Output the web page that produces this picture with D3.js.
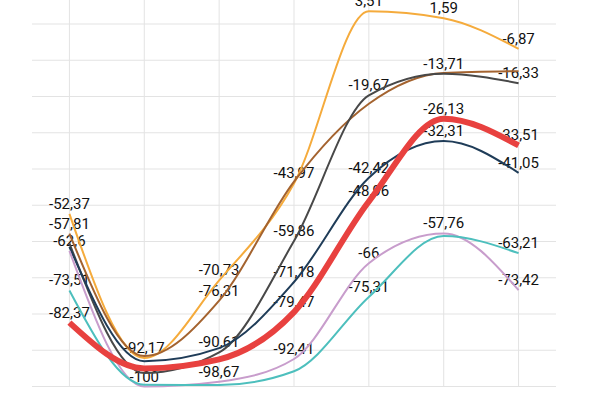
<!DOCTYPE html>
<html>
<head>
<meta charset="utf-8">
<script src="https://cdn.jsdelivr.net/npm/d3@7"></script>
<style>
  body { margin: 0; background: #fff; }
  svg { display: block; font-family: Roboto, "Noto Sans", sans-serif; }
</style>
</head>
<body>
<div id="chart"></div>
<script>
var months = ["Marzo", "Aprile", "Maggio", "Giugno", "Luglio", "Agosto", "Settembre"];

var arancio = [-52.37, -92.17, -70.73, -43.97, 3.51, 1.59, -6.87];
var marrone = [-57.81, -91.6, -76.31, -43.5, -22, -13.5, -13];
var grigio  = [-60.5, -96.3, -90.61, -59.86, -19.67, -13.71, -16.33];
var blu     = [-61.5, -93, -89.4, -71.18, -42.42, -32.31, -41.05];
var viola   = [-62.6, -100, -98.67, -92.41, -66, -57.76, -73.42];
var ciano   = [-73.51, -99.5, -99.6, -95.8, -75.31, -58.5, -63.21];
var rosso   = [-82.37, -95, -92.5, -79.47, -48.96, -26.13, -33.51];

var yTicks = [-100, -90, -80, -70, -60, -50, -40, -30, -20, -10, 0];

// ordine di disegno delle linee (rosso sopra)
var series = [
  {values: arancio, color: "#f5ab3c", width: 2},
  {values: marrone, color: "#a4632f", width: 2},
  {values: grigio,  color: "#484848", width: 2},
  {values: blu,     color: "#1f3c58", width: 2},
  {values: viola,   color: "#c89dcc", width: 2},
  {values: ciano,   color: "#4dbfbd", width: 2},
  {values: rosso,   color: "#e8413f", width: 6}
];

// priorita' delle etichette: quelle che si sovrappongono vengono nascoste
var labelOrder = [arancio, viola, grigio, rosso, blu, ciano, marrone];

var W = 600, H = 400;
var left = 32, right = 556, bottom = 386.5, zeroY = 24;

var svg = d3.select("#chart").append("svg")
    .attr("width", W)
    .attr("height", H);

var x = d3.scaleBand()
    .domain(months)
    .range([left, right]);

var cx = function(m) { return x(m) + x.bandwidth() / 2; };

var y = d3.scaleLinear()
    .domain([-100, 0])
    .range([bottom, zeroY]);

// griglia
svg.append("g").selectAll("line").data(yTicks)
  .join("line")
    .attr("x1", left).attr("x2", right)
    .attr("y1", function(d) { return y(d); })
    .attr("y2", function(d) { return y(d); })
    .attr("stroke", "#e3e3e3")
    .attr("stroke-width", 1);

svg.append("g").selectAll("line").data(months)
  .join("line")
    .attr("x1", cx).attr("x2", cx)
    .attr("y1", 0).attr("y2", bottom)
    .attr("stroke", "#e3e3e3")
    .attr("stroke-width", 1);

// asse x (tagliato in basso come nell'originale)
var xAxis = svg.append("g")
    .attr("transform", "translate(0," + bottom + ")")
    .call(d3.axisBottom(x).tickSize(0).tickPadding(17));
xAxis.select(".domain").remove();
xAxis.selectAll("text")
    .attr("fill", "#555")
    .style("font-size", "15px")
    .style("font-family", "Roboto, sans-serif");

// etichette valori, nascoste se si sovrappongono
var fmt = function(v) { return String(v).replace(".", ","); };
var placed = [];
var labels = svg.append("g");

labelOrder.forEach(function(vals) {
  vals.forEach(function(v, i) {
    var t = labels.append("text")
        .attr("x", cx(months[i]))
        .attr("y", y(v) - 5)
        .attr("text-anchor", "middle")
        .attr("fill", "#111")
        .style("font-size", "15px")
        .text(fmt(v));
    var w = t.node().getComputedTextLength();
    var box = {x0: cx(months[i]) - w / 2, x1: cx(months[i]) + w / 2,
               y0: y(v) - 19, y1: y(v) - 5};
    var hit = placed.some(function(b) {
      return box.x0 < b.x1 && box.x1 > b.x0 && box.y0 < b.y1 && box.y1 > b.y0;
    });
    if (hit) t.remove();
    else placed.push(box);
  });
});

// linee
var line = d3.line()
    .x(function(d, i) { return cx(months[i]); })
    .y(function(d) { return y(d); })
    .curve(d3.curveMonotoneX);

series.forEach(function(s) {
  svg.append("path")
      .datum(s.values)
      .attr("fill", "none")
      .attr("stroke", s.color)
      .attr("stroke-width", s.width)
      .attr("d", line);
});
</script>
</body>
</html>
